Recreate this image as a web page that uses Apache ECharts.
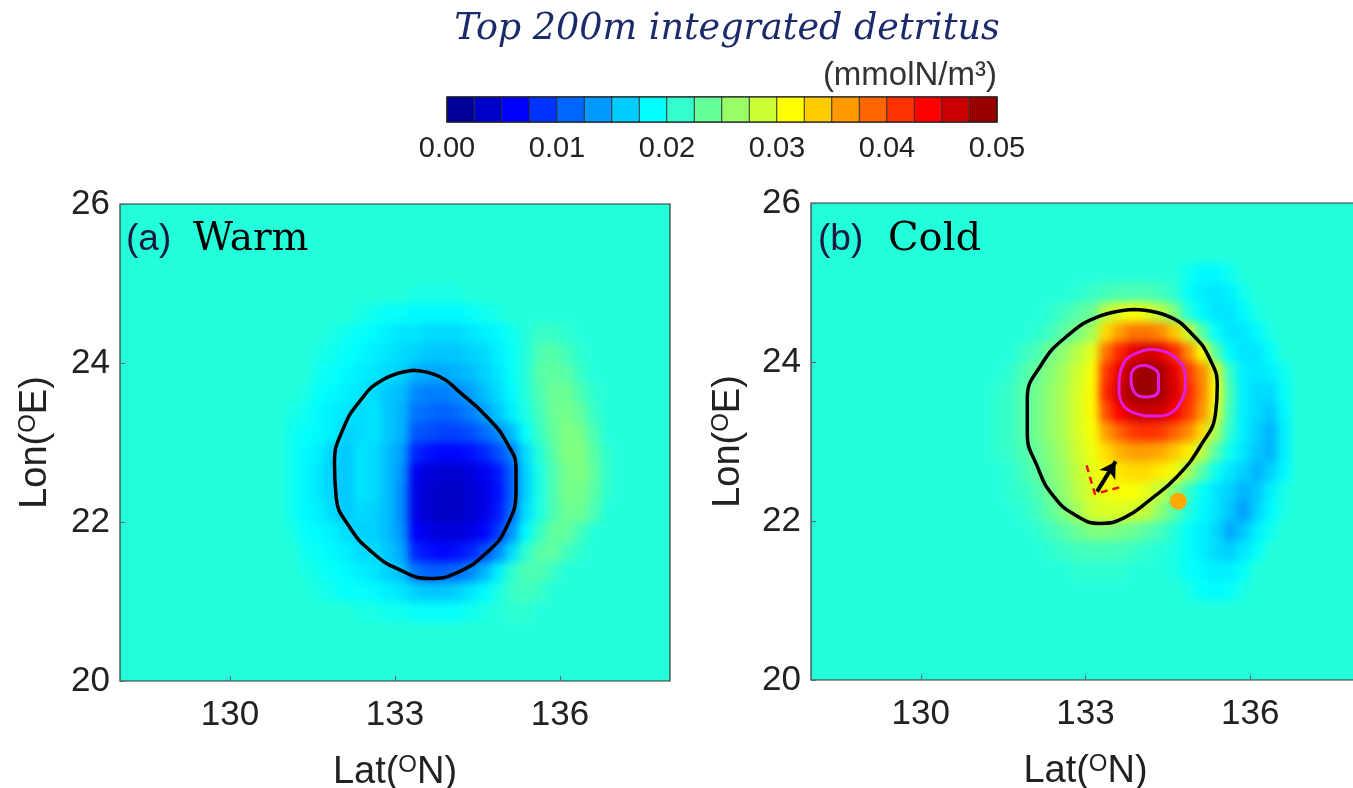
<!DOCTYPE html>
<html><head><meta charset="utf-8">
<script src="https://cdn.jsdelivr.net/npm/echarts@6/dist/echarts.min.js"></script>
<style>
html,body{margin:0;padding:0;background:#fff}
#wrap{position:relative;width:1353px;height:788px;overflow:hidden;background:#fff}
.clip{position:absolute;overflow:hidden}
.blur{position:absolute;left:-20px;top:-20px;filter:blur(4px)}
#c{position:absolute;left:0;top:0;width:1353px;height:788px}
</style>
</head><body>
<div id="wrap">
  <div class="clip" style="left:120px;top:204px;width:550px;height:477px"><div id="hL" class="blur" style="width:590px;height:517px"></div></div>
  <div class="clip" style="left:811px;top:203px;width:549px;height:477px"><div id="hR" class="blur" style="width:589px;height:517px"></div></div>
  <div id="c"></div>
</div>
<script>
// ---- DATA (field values in 10^-3 mmolN/m3) ----
const BG = 20.5;                       // background value outside the eddy
const cellLon0 = 128.125, cellLat0 = 20.125, cellStep = 0.25, nLon = 40, nLat = 24;

// Warm eddy window: columns start at lon 131.125, rows from lat 24.875 downward
const warmLon0 = 131.125, warmLatTop = 24.875;
const warmRows = [
 [20.5,20.5,20.5,20.5,20.5,20.5,20.5,20.5,20.5,20,20,20,20,20.5,20.5,20.5,20.5,20.5,20.5,20.5,20.5,20.5,20.5,20.5],
 [20.5,20.5,20.5,20.5,20.5,20,19.5,19,19,18.5,18.5,18.5,18.5,19,19.5,20,20.5,20.5,20.5,20.5,20.5,20.5,20.5,20.5],
 [20.5,20.5,20.5,20,19.5,19,18.5,18,17.5,17.5,17,17,17,17.5,18,18.5,19.5,20.5,21.5,21.5,21,20.5,20.5,20.5],
 [20.5,20.5,20,19.5,19,18.5,18,17.5,17,16.5,16,16,16,16.5,17,18,19,20.5,22.5,23,22,21,20.5,20.5],
 [20.5,20.5,19.5,19,18.5,18,17.5,17,16.5,15,14.5,14.5,15,15.5,16.5,17.5,19,20.5,23,23.5,23,21.5,20.5,20.5],
 [20.5,20,19,18.5,18,17.5,17,16,15.5,13,12.5,12.5,13,14,15.5,17,18.5,20.5,22.5,24,24,22.5,21,20.5],
 [20,19.5,18.5,18,17.5,17,17.5,16,15,12,11.5,11,11.5,12.5,14,16,18,20,22,24,24.5,23.5,21.5,20.5],
 [19.5,19,18.5,18,16.5,17,17.5,16,15,10.5,10,9.5,9.5,10,11.5,13,15.5,19,21.5,23.5,25,24.5,22.5,20.5],
 [19.5,18.5,18,16.5,16,17.5,17,15.5,14,8,7,6.5,6.5,7,8,10,12.5,17,20.5,23,25,25,23,21],
 [19.5,18.5,17.5,16.5,16,17.5,17,15.5,13.5,5.5,4.5,4,4,4.5,5.5,7.5,11,16.5,20,22.5,24.5,25,23.5,21],
 [19.5,18.5,17.5,16.5,16,17.5,17,15.5,13,5,4,3.5,3.5,4,5,7,11,16.5,20,22.5,24.5,24.5,23,21],
 [19.5,18.5,18,17,16,17,16.5,15.5,13,5,4,3.5,3.5,4,5,7.5,11.5,17,20,22.5,24,24,22.5,20.5],
 [20,19,18.5,18,17,16.5,16.5,15.5,13.5,6,5,4.5,4.5,5,6.5,9,13.5,18.5,21.5,23.5,23.5,22,20.5,20.5],
 [20.5,19.5,19,18.5,18,17,17,16,14.5,8,7,6.5,7,8,10,13,17,21,23,23.5,22,21,20.5,20.5],
 [20.5,20,19.5,19,18.5,18,17.5,16.5,15.5,12,11,11,11.5,13,15,18,21,22.5,22.5,21.5,20.5,20.5,20.5,20.5],
 [20.5,20.5,20,19.5,19,19,18.5,18,17.5,16.5,16,16,16.5,17.5,18.5,20,21.5,22,21.5,20.5,20.5,20.5,20.5,20.5],
 [20.5,20.5,20.5,20.5,20.5,20,20,19.5,19.5,19,19,19,19,19.5,20,20.5,21,21,20.5,20.5,20.5,20.5,20.5,20.5]
];

// Cold eddy window: columns start at lon 131.125, rows from lat 25.125 downward
const coldLon0 = 131.125, coldLatTop = 25.125;
const coldRows = [
 [20.5,20.5,20.5,20.5,20.5,20.5,20.5,20.5,20.5,20.5,20.5,20.5,20.5,20.5,20.5,19.5,18.5,18.5,19.5,20.5,20.5,20.5,20.5,20.5],
 [20.5,20.5,20.5,20.5,20.5,20.5,20.5,21,21.5,22,22.5,22.5,22.5,22,21,19,18,17.5,18,19.5,20.5,20.5,20.5,20.5],
 [20.5,20.5,20.5,20.5,20.5,21,22,23,24,28,30,31,30,28,25,20.5,18.5,17.5,17.5,18.5,20,20.5,20.5,20.5],
 [20.5,20.5,20.5,20.5,21,22,23.5,25,27,33,36,38,38,37,34,29,23,19,17.5,17.5,18.5,20,20.5,20.5],
 [20.5,20.5,20.5,21.5,22.5,24.5,26,28,30,38,42,45,46,45,42,37,31,23,18.5,17.5,17.5,19,20.5,20.5],
 [20.5,20.5,21,22.5,24,25.5,27,29,31,41,45,48,49,48,45,41,37,30,21.5,18,17.5,18,19.5,20.5],
 [20.5,21,21.5,23,24.5,26,27.5,29.5,31.5,42,46,48.5,49,48,45.5,42,37.5,31,22.5,18,17,17,19,20.5],
 [20.5,21,21.5,23,24.5,26,27.5,29.5,31.5,40,44,46,46.5,46,44,41,36.5,30,22,18,17,16,18.5,20.5],
 [20.5,21,21.5,23,24.5,26,27.5,29.5,31,36,39,41,41.5,41,39,37,33,27,21,18,16.5,15,18,20.5],
 [20.5,21,21.5,22.5,24,25.5,27,29,30.5,33,35,36,36,35.5,34,32,28,23,19.5,17.5,16,15,18,20.5],
 [20.5,20.5,21,22,23.5,25,26.5,28.5,30,31.5,32.5,33,33,32,30.5,27,23,19.5,17.5,16.5,15,16.5,18.5,20.5],
 [20.5,20.5,21,21.5,22.5,24.5,26,28,29.5,30.5,31,31,30,28,25,21.5,19,17.5,16.5,15,16,18,20,20.5],
 [20.5,20.5,20.5,21,22,23.5,25,27,29,29.5,29.5,29,28,25.5,23,20.5,18.5,17.5,16,14,16.5,18.5,20,20.5],
 [20.5,20.5,20.5,20.5,21,22,23,24,25,25,24.5,24,23,22,20.5,19,18,17,14.5,16,18,19.5,20.5,20.5],
 [20.5,20.5,20.5,20.5,20.5,21,21.5,22,22,22,22,21.5,21,20.5,20,19,18,17,16.5,17.5,19,20.5,20.5,20.5],
 [20.5,20.5,20.5,20.5,20.5,20.5,20.5,21,21,21,21,20.5,20.5,20.5,20,19,18.5,18,18,19,20.5,20.5,20.5,20.5],
 [20.5,20.5,20.5,20.5,20.5,20.5,20.5,20.5,20.5,20.5,20.5,20.5,20.5,20.5,20.5,20,19,18.5,19,20,20.5,20.5,20.5,20.5]
];

// Eddy boundary contours [lon, lat]
const warmContour = [[133.33,23.91],[132.78,23.79],[132.36,23.52],[132.05,23.16],[131.90,22.74],[131.93,22.32],[132.17,21.94],[132.60,21.61],[133.08,21.40],[133.63,21.29],[134.12,21.36],[134.66,21.61],[135.03,21.94],[135.20,22.41],[135.20,22.66],[135.03,23.00],[134.66,23.33],[134.18,23.63],[133.81,23.83],[133.33,23.91]];
const coldContour = [[133.88,24.66],[133.27,24.58],[132.67,24.33],[132.18,23.95],[131.94,23.53],[131.94,23.11],[132.12,22.69],[132.42,22.31],[132.85,22.06],[133.27,21.97],[133.70,22.04],[134.18,22.27],[134.67,22.56],[135.09,22.94],[135.37,23.36],[135.40,23.70],[135.27,24.03],[134.97,24.33],[134.49,24.58],[133.88,24.66]];
const magentaOuter = [[134.18,24.16],[134.61,24.07],[134.82,23.78],[134.73,23.49],[134.30,23.32],[133.88,23.36],[133.61,23.65],[133.70,23.99],[134.18,24.16]];
const magentaInner = [[134.09,23.96],[134.33,23.84],[134.33,23.65],[134.12,23.56],[133.88,23.63],[133.83,23.82],[133.94,23.94],[134.09,23.96]];
const dashedL = [[133.02,22.70],[133.17,22.34],[133.65,22.43]];
const arrowSeg = [[133.21,22.37],[133.55,22.75]];
const orangeDot = [[134.69,22.25]];

const xTicks = [130,133,136];
const cbLevels = [0,0.0025,0.005,0.0075,0.01,0.0125,0.015,0.0175,0.02,0.0225,0.025,0.0275,0.03,0.0325,0.035,0.0375,0.04,0.0425,0.045,0.0475,0.05];
const jet20 = ['#000099','#0000cc','#0000ff','#0033ff','#0066ff','#0099ff','#00ccff','#00ffff','#33ffcc','#66ff99','#99ff66','#ccff33','#ffff00','#ffcc00','#ff9900','#ff6600','#ff3300','#ff0000','#cc0000','#990000'];

// ---- build ----
const VMIN = 0.00125, VMAX = 0.04875;
const lonCats = Array.from({length:nLon},(_,k)=>(cellLon0+cellStep*k).toFixed(3));
const latCats = Array.from({length:nLat},(_,j)=>(cellLat0+cellStep*j).toFixed(3));
function buildField(rows, lon0, latTop){
  const grid = [];
  for(let j=0;j<nLat;j++){ grid.push(new Array(nLon).fill(BG)); }
  const k0 = Math.round((lon0-cellLon0)/cellStep);
  const jTop = Math.round((latTop-cellLat0)/cellStep);
  rows.forEach((row,r)=>{ row.forEach((v,c)=>{ grid[jTop-r][k0+c] = v; }); });
  const out=[];
  for(let j=0;j<nLat;j++) for(let k=0;k<nLon;k++) out.push([k,j,grid[j][k]*1e-3]);
  return out;
}
const warmData = buildField(warmRows, warmLon0, warmLatTop);
const coldData = buildField(coldRows, coldLon0, coldLatTop);
const cbData = jet20.map((c,i)=>[i,0,(cbLevels[i]+cbLevels[i+1])/2]);
const bgColor = echarts.color.lerp((BG*1e-3-VMIN)/(VMAX-VMIN), jet20);

// field layers (shaded, interpolated look)
function heatOption(data, w, h){
  return {animation:false, backgroundColor:bgColor,
    grid:{left:20, top:20, width:w, height:h, outerBoundsMode:'none'},
    xAxis:{type:'category', data:lonCats, show:false},
    yAxis:{type:'category', data:latCats, show:false},
    visualMap:{type:'continuous', show:false, min:VMIN, max:VMAX, inRange:{color:jet20}},
    series:[{type:'heatmap', data:data, itemStyle:{borderWidth:0}, progressive:0}]};
}
echarts.init(document.getElementById('hL')).setOption(heatOption(warmData,550,477));
echarts.init(document.getElementById('hR')).setOption(heatOption(coldData,549,477));

const FONT = 'Liberation Sans, Arial, sans-serif';
const sup = {s:{fontSize:24, fontFamily:FONT, color:'#222', padding:[0,0,16,0]}};
function valX(gi){ return {type:'value', gridIndex:gi, min:128, max:138, z:10,
  axisLine:{show:false}, splitLine:{show:false},
  axisTick:{show:true, inside:true, length:5, customValues:xTicks, lineStyle:{color:'#666'}},
  axisLabel:{customValues:xTicks, fontSize:35, fontFamily:FONT, color:'#222', margin:17},
  name:'Lat({s|O}N)', nameLocation:'middle', nameGap:72,
  nameTextStyle:{fontSize:38, fontFamily:FONT, color:'#222', rich:sup}}; }
function valY(gi,gap){ return {type:'value', gridIndex:gi, min:20, max:26, interval:2, z:10,
  axisLine:{show:false}, splitLine:{show:false},
  axisTick:{show:true, inside:true, length:5, lineStyle:{color:'#666'}},
  axisLabel:{fontSize:35, fontFamily:FONT, color:'#222', margin:10},
  name:'Lon({s|O}E)', nameLocation:'middle', nameGap:gap,
  nameTextStyle:{fontSize:38, fontFamily:FONT, color:'#222', rich:sup}}; }

const option = {
  animation:false,
  backgroundColor:'transparent',
  grid:[
    {left:120, top:204, width:550, height:477, show:true, borderColor:'#333', borderWidth:1.2, z:5, outerBoundsMode:'none'},
    {left:811, top:203, width:549, height:477, show:true, borderColor:'#333', borderWidth:1.2, z:5, outerBoundsMode:'none'},
    {left:447, top:97, width:550, height:25, show:true, borderColor:'#222', borderWidth:1.2, z:5, outerBoundsMode:'none'}
  ],
  xAxis:[ valX(0), valX(1),
    {type:'value', gridIndex:2, min:0, max:0.05, interval:0.01, axisLine:{show:false}, axisTick:{show:false}, splitLine:{show:false},
     axisLabel:{fontSize:29, fontFamily:FONT, color:'#222', margin:12, formatter:v=>v.toFixed(2)}},
    {type:'category', gridIndex:2, data:jet20.map((c,i)=>String(i)), show:false} ],
  yAxis:[ valY(0,64), valY(1,62), {type:'category', gridIndex:2, data:['cb'], show:false} ],
  visualMap:[
    {type:'piecewise', show:false, seriesIndex:0,
     pieces: jet20.map((c,i)=>({gte:cbLevels[i], lt:cbLevels[i+1], color:c}))}
  ],
  series:[
    {type:'heatmap', xAxisIndex:3, yAxisIndex:2, data:cbData, itemStyle:{borderColor:'#333', borderWidth:1}, z:1},
    {type:'line', xAxisIndex:0, yAxisIndex:0, data:warmContour, smooth:0.5, showSymbol:false, lineStyle:{color:'#000', width:3.5}, z:6},
    {type:'line', xAxisIndex:1, yAxisIndex:1, data:coldContour, smooth:0.5, showSymbol:false, lineStyle:{color:'#000', width:3.5}, z:6},
    {type:'line', xAxisIndex:1, yAxisIndex:1, data:magentaOuter, smooth:0.5, showSymbol:false, lineStyle:{color:'#e01ee0', width:3}, z:6},
    {type:'line', xAxisIndex:1, yAxisIndex:1, data:magentaInner, smooth:0.5, showSymbol:false, lineStyle:{color:'#e01ee0', width:3}, z:6},
    {type:'line', xAxisIndex:1, yAxisIndex:1, data:dashedL, showSymbol:false, lineStyle:{color:'#ee1111', width:2.5, type:[7,5]}, z:6},
    {type:'line', xAxisIndex:1, yAxisIndex:1, data:[], z:7,
     markLine:{silent:true, symbol:['none','arrow'], symbolSize:[14,16], label:{show:false},
       lineStyle:{color:'#000', width:4, type:'solid'},
       data:[[{coord:arrowSeg[0]},{coord:arrowSeg[1]}]]}},
    {type:'scatter', xAxisIndex:1, yAxisIndex:1, data:orangeDot, symbolSize:17, itemStyle:{color:'#ffaa00', opacity:1}, z:7}
  ],
  graphic:[
    {type:'text', x:727, y:30, style:{text:'Top 200m integrated detritus', font:'italic 36.5px "DejaVu Serif", serif', fill:'#1b2a6b', align:'center', verticalAlign:'middle'}},
    {type:'text', x:997, y:76, style:{text:'(mmolN/m³)', font:'33px "Liberation Sans", Arial, sans-serif', fill:'#333', align:'right', verticalAlign:'middle'}},
    {type:'text', x:126, y:240, z:20, style:{text:'(a)', font:'37px "Liberation Sans", Arial, sans-serif', fill:'#1a1a40', verticalAlign:'middle'}},
    {type:'text', x:193, y:240, z:20, style:{text:'Warm', font:'39px "DejaVu Serif", serif', fill:'#000', verticalAlign:'middle'}},
    {type:'text', x:818, y:240, z:20, style:{text:'(b)', font:'37px "Liberation Sans", Arial, sans-serif', fill:'#1a1a40', verticalAlign:'middle'}},
    {type:'text', x:888, y:240, z:20, style:{text:'Cold', font:'40px "DejaVu Serif", serif', fill:'#000', verticalAlign:'middle'}}
  ]
};
const chart = echarts.init(document.getElementById('c'), null, {renderer:'canvas'});
chart.setOption(option);
</script></body></html>
